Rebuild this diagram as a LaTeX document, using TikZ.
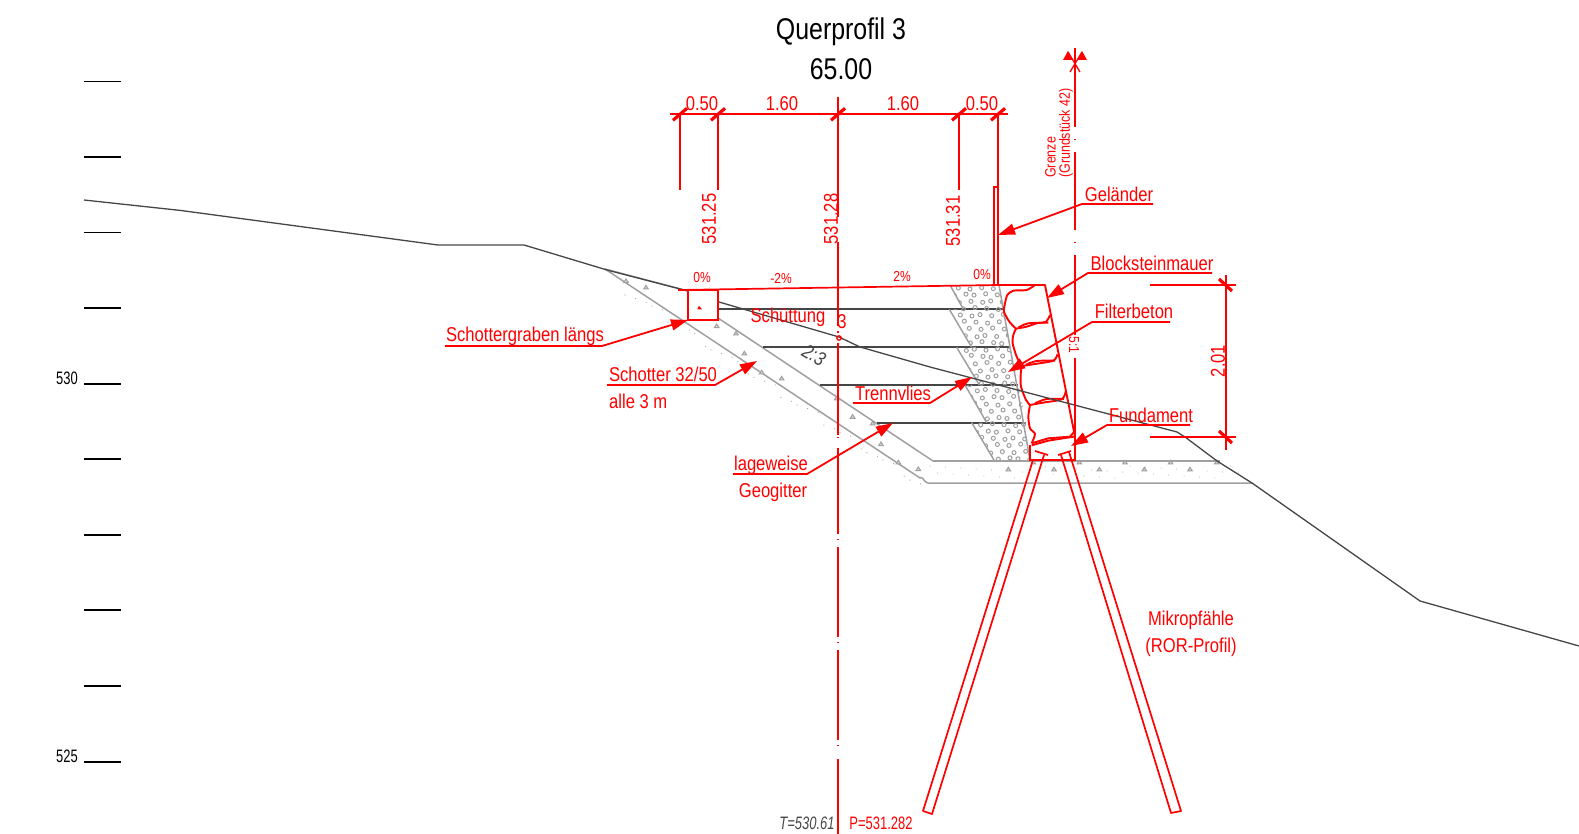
\documentclass[tikz,border=0pt]{standalone}
\usepackage{fontspec}
\setmainfont{Liberation Sans}[FakeStretch=0.83]
\newfontfamily\narrowf{Liberation Sans}[FakeStretch=0.72]
\usetikzlibrary{arrows.meta}
\definecolor{rd}{RGB}{255,0,0}
\definecolor{gl}{RGB}{160,160,160}
\definecolor{dk}{RGB}{70,70,70}
\tikzset{
 redl/.style={draw=rd,line width=1.7pt},
 thinred/.style={draw=rd,line width=1.3pt},
 tickm/.style={draw=rd,line width=3.2pt},
 lead/.style={draw=rd,line width=1.8pt,-{Triangle[length=17pt,width=11pt]}},
 grayl/.style={draw=gl,line width=1.5pt},
 darkl/.style={draw=dk,line width=1.3pt},
 lab/.style={text=rd,inner sep=0pt,font=\fontsize{20}{22}\selectfont},
 pct/.style={text=rd,inner sep=0pt,font=\fontsize{14.5}{16}\selectfont},
 blk/.style={draw=rd,line width=1.9pt,line join=round},
 scl/.style={draw=black,line width=1.3pt},
 sclab/.style={text=black,inner sep=0pt,font=\narrowf\fontsize{18}{20}\selectfont},
 titl/.style={text=black,inner sep=0pt,font=\fontsize{30}{33}\selectfont},
 tri/.style={draw=gl,line width=1pt,fill=gl!40},
}
\begin{document}
\begin{tikzpicture}[x=1pt,y=-1pt]
\useasboundingbox (0,0) rectangle (1579,834);

% scale ticks
\foreach \yy in {81.6,157,232.6,308,384,459,535,610,686,762}{\draw[scl] (84,\yy) -- (121,\yy);}
\node[sclab] (s530) at (67,378) {530};
\node[sclab] (s525) at (67,756) {525};

% title
\node[titl] (t1) at (841,32) {Querprofil 3};
\node[titl] (t2) at (841,69.5) {65.00};

% fill & excavation
\draw[grayl] (605,269) -- (920,478) to[out=55,in=180] (928,483) -- (1252,483);
\draw[grayl] (718,318) -- (933,461);
\draw[grayl] (605,269) -- (688,291);

% fine specks in the gravel
\foreach \k in {0,...,34}{
 \pgfmathsetmacro{\ax}{625+\k*8.6+mod(\k*7,5)}
 \pgfmathsetmacro{\ay}{288+\k*5.7-mod(\k*11,9)+7}
 \fill[gl] (\ax,\ay) circle (0.6);
}
\foreach \k in {0,...,40}{
 \pgfmathsetmacro{\ax}{930+\k*7.7}
 \pgfmathsetmacro{\ay}{466+mod(\k*7,13)}
 \fill[gl] (\ax,\ay) circle (0.5);
}

% gravel triangles
\begin{scope}[shift={(590,250)},scale=0.3333]
\foreach \a/\b in {108/93,168/112,380/228,438/250,463/310,515/367,575/385,740/445,788/500,848/520,873/582,925/637,985/657}{
 \draw[tri] (\a-7,\b+5) -- (\a+7,\b+5) -- (\a,\b-6) -- cycle;}
\fill[rd] (322,178) -- (336,178) -- (327,167) -- cycle;
\end{scope}
\begin{scope}[shift={(1000,430)},scale=0.3333]
\foreach \a/\b in {25/118,162/118,298/118,433/118,570/118,100/97,238/97,375/97,512/97,650/97}{
 \draw[tri] (\a-7,\b+5) -- (\a+7,\b+5) -- (\a,\b-6) -- cycle;}
\end{scope}

% layer lines
\draw[darkl] (718,309) -- (1003,309);
\draw[darkl] (763,347) -- (1010,347);
\draw[darkl] (820,385) -- (1018,385);
\draw[darkl] (877,423) -- (1026,423);

% filter concrete
\begin{scope}[shift={(920,260)},scale=0.3333]
\begin{scope}
\clip (90,75) -- (237,75) -- (250,148) -- (130,148) -- cycle
 (88,148) -- (250,148) -- (270,262) -- (155,262) -- cycle
 (110,262) -- (270,262) -- (295,375) -- (178,375) -- cycle
 (135,375) -- (295,375) -- (318,488) -- (200,488) -- cycle
 (155,488) -- (318,488) -- (330,600) -- (222,600) -- cycle;
\foreach \i in {0,...,25}{\foreach \j in {0,...,8}{
 \pgfmathsetmacro{\px}{85+\j*33+mod(\i,2)*16+mod(\i*7+\j*13,11)-5}
 \pgfmathsetmacro{\py}{84+\i*20.5+mod(\i*5+\j*3,7)-3}
 \draw[gl,line width=1pt] (\px,\py) circle (6);
}}
\end{scope}
\draw[grayl] (90,75) -- (130,148);
\draw[grayl] (88,148) -- (155,262);
\draw[grayl] (110,262) -- (178,375);
\draw[grayl] (135,375) -- (200,488);
\draw[grayl] (155,488) -- (222,600);
\draw[grayl] (237,75) -- (330,600);
\draw[grayl,line width=2pt] (40,603) -- (900,603);
% blocks
\draw[blk] plot[smooth,tension=.45] coordinates {(345,75) (320,90) (280,92) (262,105) (255,130) (252,155) (268,185) (288,206)};
\draw[blk] plot[smooth,tension=.5] coordinates {(288,206) (320,200) (350,190) (378,185) (390,165)};
\draw[blk] plot[smooth,tension=.5] coordinates {(296,202) (325,190) (385,188)};
\draw[blk] plot[smooth,tension=.45] coordinates {(288,206) (280,225) (278,250) (290,290) (305,318)};
\draw[blk] plot[smooth,tension=.5] coordinates {(305,318) (345,312) (400,302) (412,283)};
\draw[blk] plot[smooth,tension=.5] coordinates {(318,314) (350,303) (405,302)};
\draw[blk] plot[smooth,tension=.45] coordinates {(305,318) (302,345) (303,380) (318,420) (330,435)};
\draw[blk] plot[smooth,tension=.5] coordinates {(330,435) (375,427) (425,418) (437,395)};
\draw[blk] plot[smooth,tension=.5] coordinates {(345,430) (380,417) (432,417)};
\draw[blk] plot[smooth,tension=.45] coordinates {(330,435) (325,470) (330,505) (345,522) (335,550)};
\draw[blk] (335,550) -- (385,535) -- (450,530) -- (463,515);
\draw[blk] (335,556) -- (385,542) -- (462,530);
\draw[blk] (345,75) -- (375,75) -- (465,530);
\draw[thinred] (330,555) -- (330,600) -- (465,600);
\end{scope}

% terrain
\draw[darkl] (84,200) -- (181,210.5) -- (438,245) -- (524,245) -- (607,270) -- (688,291);
\draw[darkl] (719,302) -- (839,337) -- (860,347) -- (930,367) -- (1177,432) -- (1185,437) -- (1217,461) -- (1252,483) -- (1420,601) -- (1579,646);

% crown
\draw[redl] (678,290) -- (998,285) -- (1045,285);
\draw[redl] (688,290) rectangle (718,320);
\draw[redl] (994,285) -- (994,187) -- (998,187);

% dimension chain
\draw[redl] (670,114.3) -- (1008,114.3);
\foreach \xx in {680,718,838,959,998}{
 \draw[tickm] (\xx-7,114.3+6) -- (\xx+7,114.3-6);}
\draw[redl] (680,114) -- (680,190);
\draw[redl] (718,114) -- (718,190);
\draw[redl] (838,97) -- (838,217);
\draw[redl] (959,114) -- (959,190);
\draw[redl] (998,114) -- (998,285);
\node[lab] (d1) at (702,104) {0.50};
\node[lab] (d2) at (782,104) {1.60};
\node[lab] (d3) at (903,104) {1.60};
\node[lab] (d4) at (982,104) {0.50};
\node[lab,rotate=90] (h1) at (709,219) {531.25};
\node[lab,rotate=90] (h2) at (831,219) {531.28};
\node[lab,rotate=90] (h3) at (953,221) {531.31};
\node[pct] (p1) at (702,278) {0\%};
\node[pct] (p2) at (781,278) {-2\%};
\node[pct] (p3) at (902,276) {2\%};
\node[pct] (p4) at (982,275) {0\%};

% centre line
\draw[thinred] (838,242) -- (838,326);
\draw[thinred] (838,331) -- (838,333);
\draw[thinred] (838,343) -- (838,435);
\draw[thinred] (838,437) -- (838,438);
\draw[thinred] (838,448) -- (838,534);
\draw[thinred] (838,539) -- (838,540);
\draw[thinred] (838,547) -- (838,637);
\draw[thinred] (838,642) -- (838,643);
\draw[thinred] (838,650) -- (838,740);
\draw[thinred] (838,745) -- (838,746);
\draw[thinred] (838,759) -- (838,834);
\draw[thinred] (839,338) circle (2.2);
\node[lab] (n3) at (842,322) {3};

% boundary axis
\draw[redl] (1075,48) -- (1075,127);
\draw[redl] (1075,139) -- (1075,140);
\draw[redl] (1075,152) -- (1075,230);
\draw[redl] (1075,242) -- (1075,243);
\draw[redl] (1075,255) -- (1075,335);
\draw[redl] (1075,358) -- (1075,461);
\draw[thinred] (1068,52) -- (1080,72);
\draw[thinred] (1082,52) -- (1070,72);
\fill[rd] (1068,51) -- (1063,60) -- (1073,60) -- cycle;
\fill[rd] (1082,51) -- (1077,60) -- (1087,60) -- cycle;
\node[text=rd,inner sep=0pt,rotate=90,anchor=west,font=\fontsize{15}{16}\selectfont] (g1) at (1050.5,178) {Grenze};
\node[text=rd,inner sep=0pt,rotate=90,anchor=west,font=\fontsize{15}{16}\selectfont] (g2) at (1066,178) {(Grundstück 42)};
\node[pct,rotate=-90] (sl) at (1074,345) {5:1};

% height dimension
\draw[redl] (1150,285) -- (1236,285);
\draw[redl] (1150,437) -- (1236,437);
\draw[redl] (1226,275) -- (1226,450);
\draw[tickm] (1219,279) -- (1232,291);
\draw[tickm] (1219,431) -- (1232,443);
\node[lab,rotate=90] (h201) at (1218,361) {2.01};

% piles
\draw[redl,line join=round] (1033,460) -- (923,811) -- (932,814) -- (1044,455);
\draw[redl] (1035,451) -- (1048,455);
\draw[redl,line join=round] (1061,455) -- (1171,813) -- (1181,811) -- (1069,452);
\draw[redl] (1058,455) -- (1071,451);

% labels
\node[lab] (l1) at (1119,194) {Geländer};
\coordinate (u1) at (1153,204); \coordinate (e1) at (1082,204); \coordinate (a1) at (998,235);
\draw[lead] (u1) -- (e1) -- (a1);
\node[lab] (l2) at (1152,263) {Blocksteinmauer};
\coordinate (u2) at (1212,273); \coordinate (e2) at (1088,273); \coordinate (a2) at (1047,298);
\draw[lead] (u2) -- (e2) -- (a2);
\node[lab] (l3) at (1134,311) {Filterbeton};
\coordinate (u3) at (1170,322); \coordinate (e3) at (1092,322); \coordinate (a3) at (1008,372);
\draw[lead] (u3) -- (e3) -- (a3);
\node[lab] (l4) at (1151,415) {Fundament};
\coordinate (u4) at (1190,425); \coordinate (e4) at (1107,425); \coordinate (a4) at (1071,446);
\draw[lead] (u4) -- (e4) -- (a4);
\node[lab] (l5) at (893,393) {Trennvlies};
\coordinate (u5) at (853,403); \coordinate (e5) at (930,403); \coordinate (a5) at (972,377);
\draw[lead] (u5) -- (e5) -- (a5);
\node[lab] (l6) at (525,336) {Schottergraben längs};
\coordinate (u6) at (445,346); \coordinate (e6) at (602,346); \coordinate (a6) at (688,320);
\draw[lead] (u6) -- (e6) -- (a6);
\node[lab] (l7) at (663,374) {Schotter 32/50};
\node[lab,anchor=west] (l7b) at (609,401) {alle 3 m};
\coordinate (u7) at (607,385); \coordinate (e7) at (715,385); \coordinate (a7) at (757,361);
\draw[lead] (u7) -- (e7) -- (a7);
\node[lab] (l8) at (771,465) {lageweise};
\node[lab] (l8b) at (773,492) {Geogitter};
\coordinate (u8) at (733,474); \coordinate (e8) at (807,474); \coordinate (a8) at (893,423);
\draw[lead] (u8) -- (e8) -- (a8);
\node[lab] (l9) at (788,317) {Schüttung};
\node[text=dk,inner sep=0pt,rotate=-30,font=\itshape\fontsize{20}{22}\selectfont] (s23) at (814,355) {2:3};
\node[lab] (l10) at (1191,620) {Mikropfähle};
\node[lab] (l11) at (1191,647) {(ROR-Profil)};
\node[text=dk,inner sep=0pt,font=\narrowf\itshape\fontsize{18}{20}\selectfont] (tv) at (807,823) {T=530.61};
\node[text=rd,inner sep=0pt,font=\narrowf\fontsize{18}{20}\selectfont] (pv) at (881,823) {P=531.282};
\end{tikzpicture}
\end{document}
